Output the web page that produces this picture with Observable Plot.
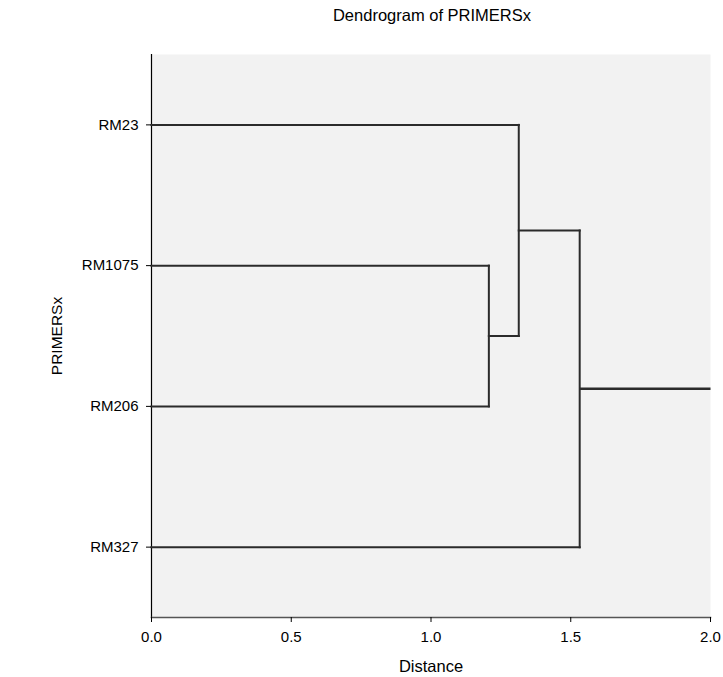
<!DOCTYPE html>
<html><head><meta charset="utf-8">
<script src="https://cdn.jsdelivr.net/npm/d3@7"></script>
<script src="https://cdn.jsdelivr.net/npm/@observablehq/plot@0.6"></script>
<style>
body{margin:0;background:#fff;font-family:"Liberation Sans",Arial,sans-serif;}
#title{height:30px;line-height:30px;box-sizing:border-box;padding-left:154px;padding-right:13px;text-align:center;font-size:16.5px;color:#000;width:723px;white-space:nowrap;}
</style>
</head><body>
<div id="title">Dendrogram of PRIMERSx</div>
<div id="chart"></div>
<script>
const leaves = ["RM23", "RM1075", "RM206", "RM327"];
const mergeName = ["C1", "C2", "C3"];
const mergeA = ["RM1075", "RM23", "C2"];
const mergeB = ["RM206", "C1", "RM327"];
const mergeHeight = [1.207, 1.314, 1.532];
const xTicks = [0, 0.5, 1.0, 1.5, 2.0];
const xMax = 2.0;

const pos = new Map(leaves.map((n, i) => [n, {x: 0, y: i}]));
const segs = [];
mergeName.forEach((m, i) => {
  const a = pos.get(mergeA[i]), b = pos.get(mergeB[i]), h = mergeHeight[i];
  segs.push({x1: a.x, y1: a.y, x2: h, y2: a.y});
  segs.push({x1: b.x, y1: b.y, x2: h, y2: b.y});
  segs.push({x1: h, y1: a.y, x2: h, y2: b.y});
  pos.set(m, {x: h, y: (a.y + b.y) / 2});
});
const root = pos.get(mergeName[mergeName.length - 1]);
const rootSeg = [{x1: root.x, y1: root.y, x2: xMax, y2: root.y}];

const chart = Plot.plot({
  width: 723, height: 647,
  marginLeft: 151, marginRight: 13, marginTop: 24, marginBottom: 60,
  style: {fontFamily: "'Liberation Sans', Arial, sans-serif", fontSize: "15px", color: "#000", background: "#fff"},
  x: {domain: [0, xMax]},
  y: {domain: [-0.5, leaves.length - 0.5], reverse: true},
  marks: [
    Plot.frame({fill: "#f2f2f2", stroke: null}),
    Plot.frame({anchor: "left", stroke: "#000", strokeWidth: 1.2}),
    Plot.frame({anchor: "bottom", stroke: "#555", strokeWidth: 1.5}),
    Plot.link(segs, {x1: "x1", y1: "y1", x2: "x2", y2: "y2", stroke: "#2b2b2b", strokeWidth: 2, strokeLinecap: "square"}),
    Plot.link(rootSeg, {x1: "x1", y1: "y1", x2: "x2", y2: "y2", stroke: "#2b2b2b", strokeWidth: 2.5}),
    Plot.axisX({ticks: xTicks, tickFormat: d => d.toFixed(1), tickSize: 5, tickPadding: 9, fontSize: 15, label: null}),
    Plot.axisX({ticks: [], tickSize: 0, label: "Distance", labelAnchor: "center", labelArrow: "none", labelOffset: 54, fontSize: 16.5}),
    Plot.axisY({ticks: d3.range(leaves.length), tickFormat: i => leaves[i], tickSize: 5, tickPadding: 8, fontSize: 15, label: null}),
    Plot.axisY({ticks: [], tickSize: 0, label: "PRIMERSx", labelAnchor: "center", labelArrow: "none", labelOffset: 101, fontSize: 15.5})
  ]
});
document.getElementById("chart").appendChild(chart);
</script>
</body></html>
